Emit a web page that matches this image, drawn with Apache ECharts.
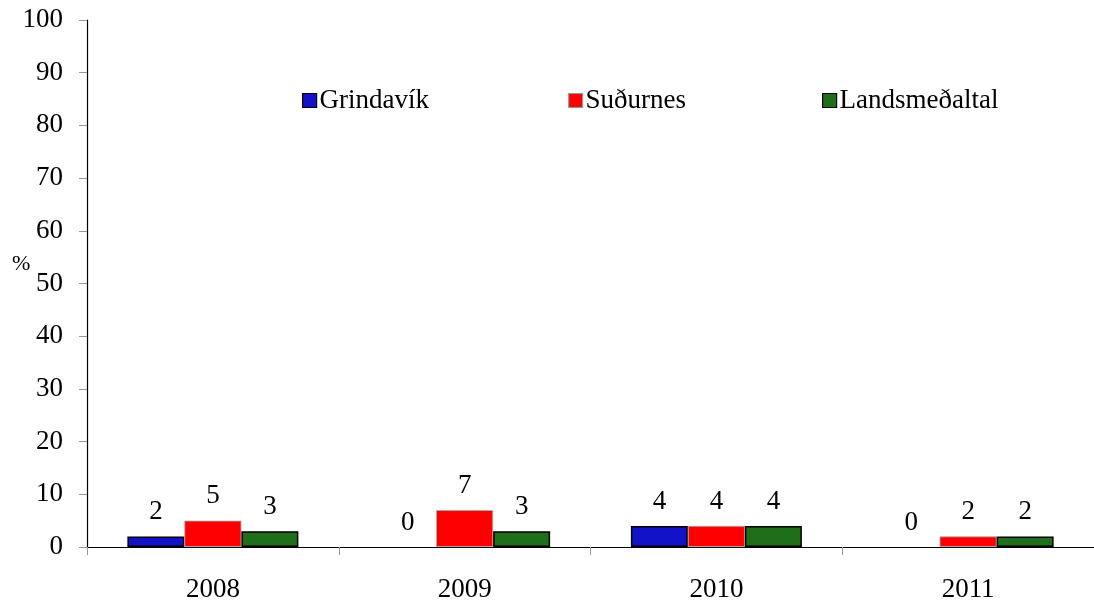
<!DOCTYPE html>
<html>
<head>
<meta charset="utf-8">
<script src="https://cdn.jsdelivr.net/npm/echarts@6/dist/echarts.min.js"></script>
<style>html,body{margin:0;padding:0;background:#fff}#c{width:1094px;height:604px}</style>
</head>
<body>
<div id="c"></div>
<script>
var categories = ['2008', '2009', '2010', '2011'];
var grindavik = [2, 0, 4, 0];
var sudurnes = [5, 7, 4, 2];
var landsmedaltal = [3, 3, 4, 2];
var seriesNames = ['Grindavík', 'Suðurnes', 'Landsmeðaltal'];
var yTicks = { min: 0, max: 100, interval: 10 };

var FONT = 'Liberation Serif';
var FS = 27;
var chart = echarts.init(document.getElementById('c'), null, { renderer: 'canvas' });

function bar(name, data, color, border, bw) {
  return {
    name: name,
    type: 'bar',
    data: data.map(function (v) {
      return v === 0 ? { value: v, itemStyle: { borderWidth: 0, opacity: 0 } } : v;
    }),
    barWidth: 57,
    barGap: '0%',
    itemStyle: { color: color, borderColor: border, borderWidth: bw },
    label: {
      show: true, position: 'top', distance: 11,
      fontFamily: FONT, fontSize: FS, color: '#000', opacity: 1
    }
  };
}

function leg(name, left, border) {
  return {
    top: 82, left: left,
    itemWidth: 14, itemHeight: 14, itemGap: 0,
    textStyle: { fontFamily: FONT, fontSize: FS, color: '#000', padding: [0, 0, 0, -2] },
    data: [{ name: name, icon: 'rect', itemStyle: { borderColor: border, borderWidth: 1.2 } }]
  };
}

chart.setOption({
  animation: false,
  backgroundColor: '#fff',
  textStyle: { fontFamily: FONT },
  grid: { left: 87, top: 20, width: 1014, bottom: 57, containLabel: false },
  legend: [
    leg(seriesNames[0], 297, '#000'),
    leg(seriesNames[1], 563, '#999'),
    leg(seriesNames[2], 817, '#000')
  ],
  xAxis: {
    type: 'category',
    data: categories,
    boundaryGap: true,
    axisLine: { lineStyle: { color: '#000', width: 1.2 } },
    axisTick: { show: true, length: 8, lineStyle: { color: '#999' } },
    axisLabel: { fontFamily: FONT, fontSize: FS, color: '#000', margin: 29 },
    splitLine: { show: false }
  },
  yAxis: {
    type: 'value',
    min: yTicks.min, max: yTicks.max, interval: yTicks.interval,
    axisLine: { show: true, lineStyle: { color: '#000', width: 1.2 } },
    axisTick: { show: true, length: 8, lineStyle: { color: '#999' } },
    axisLabel: { fontFamily: FONT, fontSize: FS, color: '#000', margin: 24 },
    splitLine: { show: false }
  },
  graphic: [{
    type: 'text', left: 12, top: 253,
    style: { text: '%', font: '22px "Liberation Serif"', fill: '#000' }
  }],
  series: [
    bar(seriesNames[0], grindavik, '#1212c8', '#000', 1.5),
    bar(seriesNames[1], sudurnes, '#ff0000', '#aaa', 0.8),
    bar(seriesNames[2], landsmedaltal, '#1e6e1a', '#000', 1.5)
  ]
});
</script>
</body>
</html>
